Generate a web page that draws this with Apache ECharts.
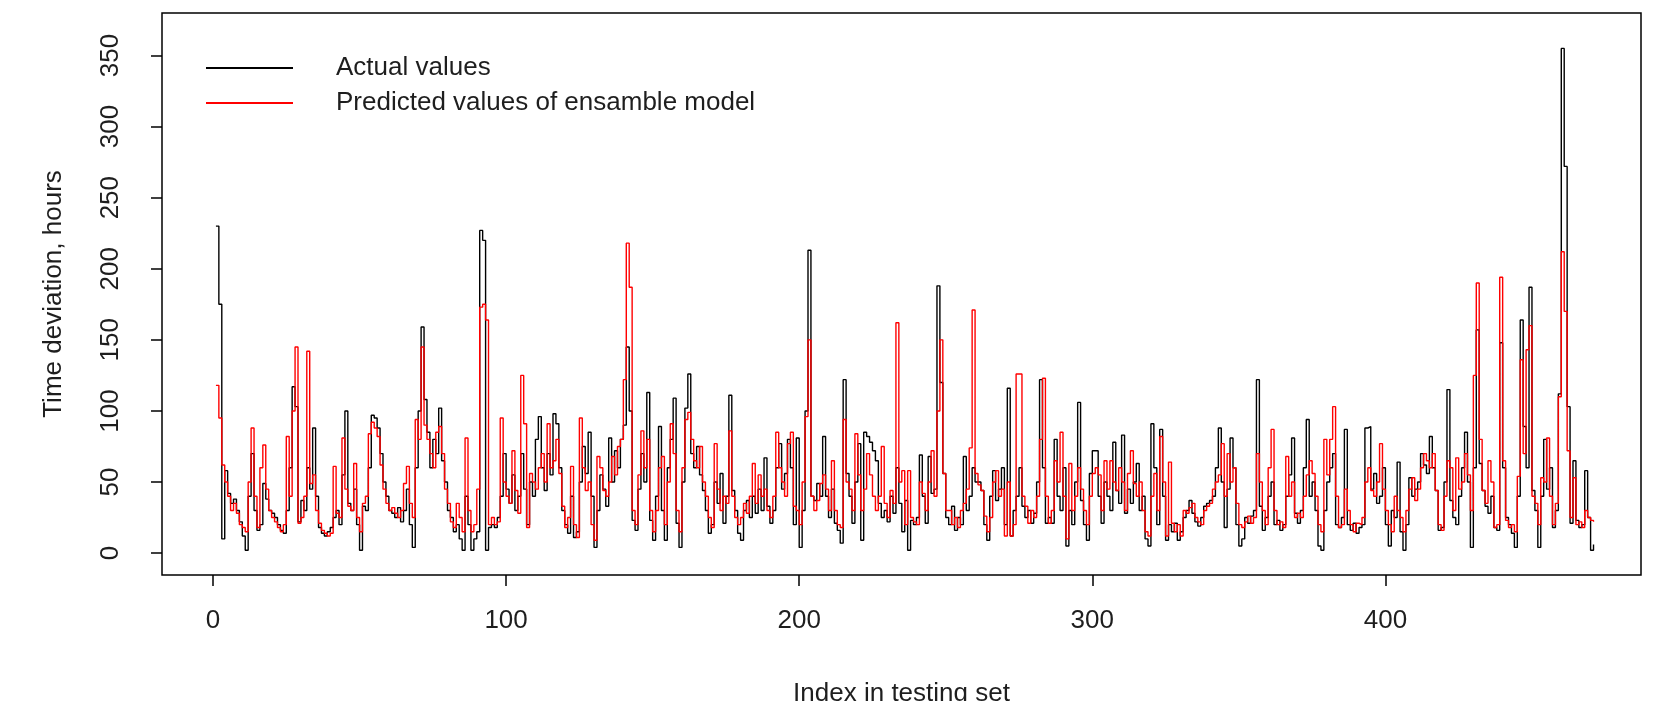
<!DOCTYPE html>
<html><head><meta charset="utf-8">
<script src="https://cdn.jsdelivr.net/npm/echarts@6/dist/echarts.min.js"></script>
<style>html,body{margin:0;padding:0;background:#fff}#c{width:1671px;height:701px}</style>
</head><body><div id="c"></div>
<script>
const actual = [
230,175,10,58,42,35,38,30,22,12,
2,40,70,30,16,20,49,38,30,28,
25,20,16,14,30,60,117,103,22,37,
30,60,45,88,40,18,14,12,15,18,
25,30,20,55,100,35,30,45,20,2,
33,30,60,97,95,88,70,50,40,30,
28,25,32,22,30,45,20,4,60,100,
159,108,85,60,80,70,102,65,50,30,
25,15,20,10,2,40,20,2,10,15,
227,220,2,18,20,18,25,40,70,45,
35,55,30,40,70,45,20,50,40,80,
96,60,44,70,55,98,91,60,30,20,
14,40,11,15,50,75,56,85,40,4,
30,55,45,33,81,50,72,60,80,90,
145,100,23,16,45,70,50,113,23,9,
40,89,30,9,60,80,109,21,4,50,
102,126,70,60,75,55,44,30,14,20,
50,35,56,21,40,111,44,30,14,9,
30,37,25,40,28,45,30,67,33,21,
30,60,77,45,56,80,60,20,81,4,
30,100,213,40,37,49,40,82,40,25,
45,21,16,7,122,56,40,21,50,77,
9,85,82,78,72,65,35,25,30,22,
40,28,60,35,15,37,2,23,20,25,
69,40,21,68,42,45,188,120,56,25,
20,33,16,25,20,68,30,40,60,50,
50,44,20,9,40,58,37,45,60,20,
116,12,30,40,60,33,25,30,21,28,
50,122,60,21,25,21,80,40,30,60,
5,30,20,50,106,37,20,9,56,72,
72,40,21,50,40,30,78,44,35,83,
28,45,35,50,63,30,40,10,5,91,
60,20,87,40,9,20,15,21,9,15,
25,30,37,28,22,19,25,33,35,37,
40,60,88,50,18,45,81,60,20,5,
10,25,21,26,30,122,33,16,25,40,
50,20,23,16,20,40,55,81,28,21,
30,60,94,40,50,30,5,2,30,50,
60,70,20,18,25,87,20,16,21,14,
18,20,88,89,45,56,35,40,60,20,
5,30,25,64,15,2,20,53,40,45,
50,70,62,56,82,60,44,16,18,50,
115,37,25,20,40,60,85,50,4,60,
157,63,44,33,28,40,18,16,148,60,
25,20,14,4,40,164,89,60,187,44,
30,4,40,80,45,60,18,30,112,355,
272,103,21,65,23,18,20,58,25,2,6
];
const predicted = [
118,95,62,50,40,30,35,28,20,18,
15,50,88,40,18,60,76,45,30,25,
22,18,15,20,82,40,100,145,21,25,
40,142,49,55,30,21,16,14,12,14,
61,28,25,81,45,33,30,63,25,15,
35,40,84,92,88,82,62,45,35,30,
32,28,25,30,49,61,35,25,94,80,
145,90,80,70,60,85,89,70,45,35,
22,18,35,25,15,81,30,15,20,45,
173,175,164,20,25,20,22,95,50,40,
35,72,44,28,125,91,18,56,50,45,
60,70,50,91,60,65,80,56,33,18,
25,61,20,11,95,60,44,50,20,9,
68,60,44,40,50,68,55,75,80,122,
218,187,30,20,55,86,60,80,30,15,
30,60,68,20,50,91,70,30,15,60,
94,99,80,65,60,75,50,40,25,18,
77,45,30,40,35,86,40,25,20,25,
35,28,40,63,35,55,40,45,30,25,
40,85,60,50,40,77,85,33,30,20,
50,96,150,40,30,37,49,55,45,30,
65,30,20,18,94,50,45,30,84,55,
30,45,70,55,40,30,40,75,35,25,
44,35,162,50,58,20,58,25,22,20,
50,42,30,50,72,40,100,150,56,30,
30,20,25,18,30,35,45,74,171,56,
48,44,26,15,25,50,58,40,45,12,
50,12,20,126,126,40,33,21,30,25,
40,80,123,40,21,30,65,50,85,40,
10,63,30,40,60,45,30,20,40,56,
60,55,30,65,45,65,50,44,60,50,
30,56,72,49,40,50,30,15,12,40,
56,30,82,50,12,64,21,15,20,12,
30,28,32,35,25,22,20,30,33,35,
45,50,55,77,40,70,50,60,35,20,
18,22,26,21,25,70,50,30,20,60,
87,30,20,22,18,68,40,50,25,28,
25,40,55,65,56,40,20,15,80,55,
80,103,40,18,20,45,30,20,15,21,
20,25,50,60,44,40,50,77,45,30,
20,15,40,30,25,15,30,45,53,37,
45,60,70,65,60,70,44,20,16,40,
65,60,30,67,45,50,70,55,30,125,
190,80,44,35,65,50,18,20,194,65,
23,18,20,15,54,136,70,143,160,40,
35,20,53,50,81,40,20,35,110,212,
170,72,25,53,20,22,18,30,25,23,22
];
const xTicks = [0, 100, 200, 300, 400];
const yTicks = [0, 50, 100, 150, 200, 250, 300, 350];
const seriesNames = ['Actual values', 'Predicted values of ensamble model'];
const xTitle = 'Index in testing set';
const yTitle = 'Time deviation, hours';

const FONT = '"Liberation Sans", Arial, Helvetica, sans-serif';
const TXT = '#1e1e1e';
const chart = echarts.init(document.getElementById('c'), null, {renderer: 'canvas', width: 1671, height: 701});
const toPairs = arr => arr.map((v, i) => [i + 1, v]);
chart.setOption({
  animation: false,
  backgroundColor: '#fff',
  textStyle: {fontFamily: FONT},
  grid: {left: 162, right: 30, top: 13, bottom: 126, show: true, borderColor: '#000', borderWidth: 1.5,
         backgroundColor: 'transparent', containLabel: false, outerBoundsMode: 'none'},
  legend: {
    orient: 'vertical', left: 201, top: 48, itemWidth: 87, itemHeight: 2, itemGap: 5, icon: 'rect',
    selectedMode: false, data: seriesNames,
    textStyle: {fontSize: 26, color: TXT, fontFamily: FONT, padding: [0, 0, 0, 38], lineHeight: 30}
  },
  xAxis: {
    type: 'value', min: -17.4, max: 487.2,
    name: xTitle, nameLocation: 'middle', nameGap: 106,
    nameTextStyle: {fontSize: 26, color: TXT, fontFamily: FONT},
    axisLine: {show: false, onZero: false},
    splitLine: {show: false},
    axisTick: {show: true, length: 11, lineStyle: {color: '#000', width: 1.5}, customValues: xTicks},
    axisLabel: {customValues: xTicks, fontSize: 26, color: TXT, fontFamily: FONT, margin: 33}
  },
  yAxis: {
    type: 'value', min: -15.4, max: 379.9,
    name: yTitle, nameLocation: 'middle', nameGap: 95, nameRotate: 90,
    nameTextStyle: {fontSize: 26, color: TXT, fontFamily: FONT},
    axisLine: {show: false, onZero: false},
    splitLine: {show: false},
    axisTick: {show: true, length: 11, lineStyle: {color: '#000', width: 1.5}, customValues: yTicks},
    axisLabel: {customValues: yTicks, fontSize: 26, color: TXT, fontFamily: FONT, margin: 38, rotate: 90}
  },
  series: [
    {type: 'line', name: seriesNames[0], data: toPairs(actual), step: 'end', symbol: 'none', showSymbol: false,
     lineStyle: {color: '#000', width: 1.4}, itemStyle: {color: '#000'}, z: 2, silent: true},
    {type: 'line', name: seriesNames[1], data: toPairs(predicted), step: 'end', symbol: 'none', showSymbol: false,
     lineStyle: {color: '#ff0000', width: 1.4}, itemStyle: {color: '#ff0000'}, z: 3, silent: true}
  ]
});
</script>
</body></html>
